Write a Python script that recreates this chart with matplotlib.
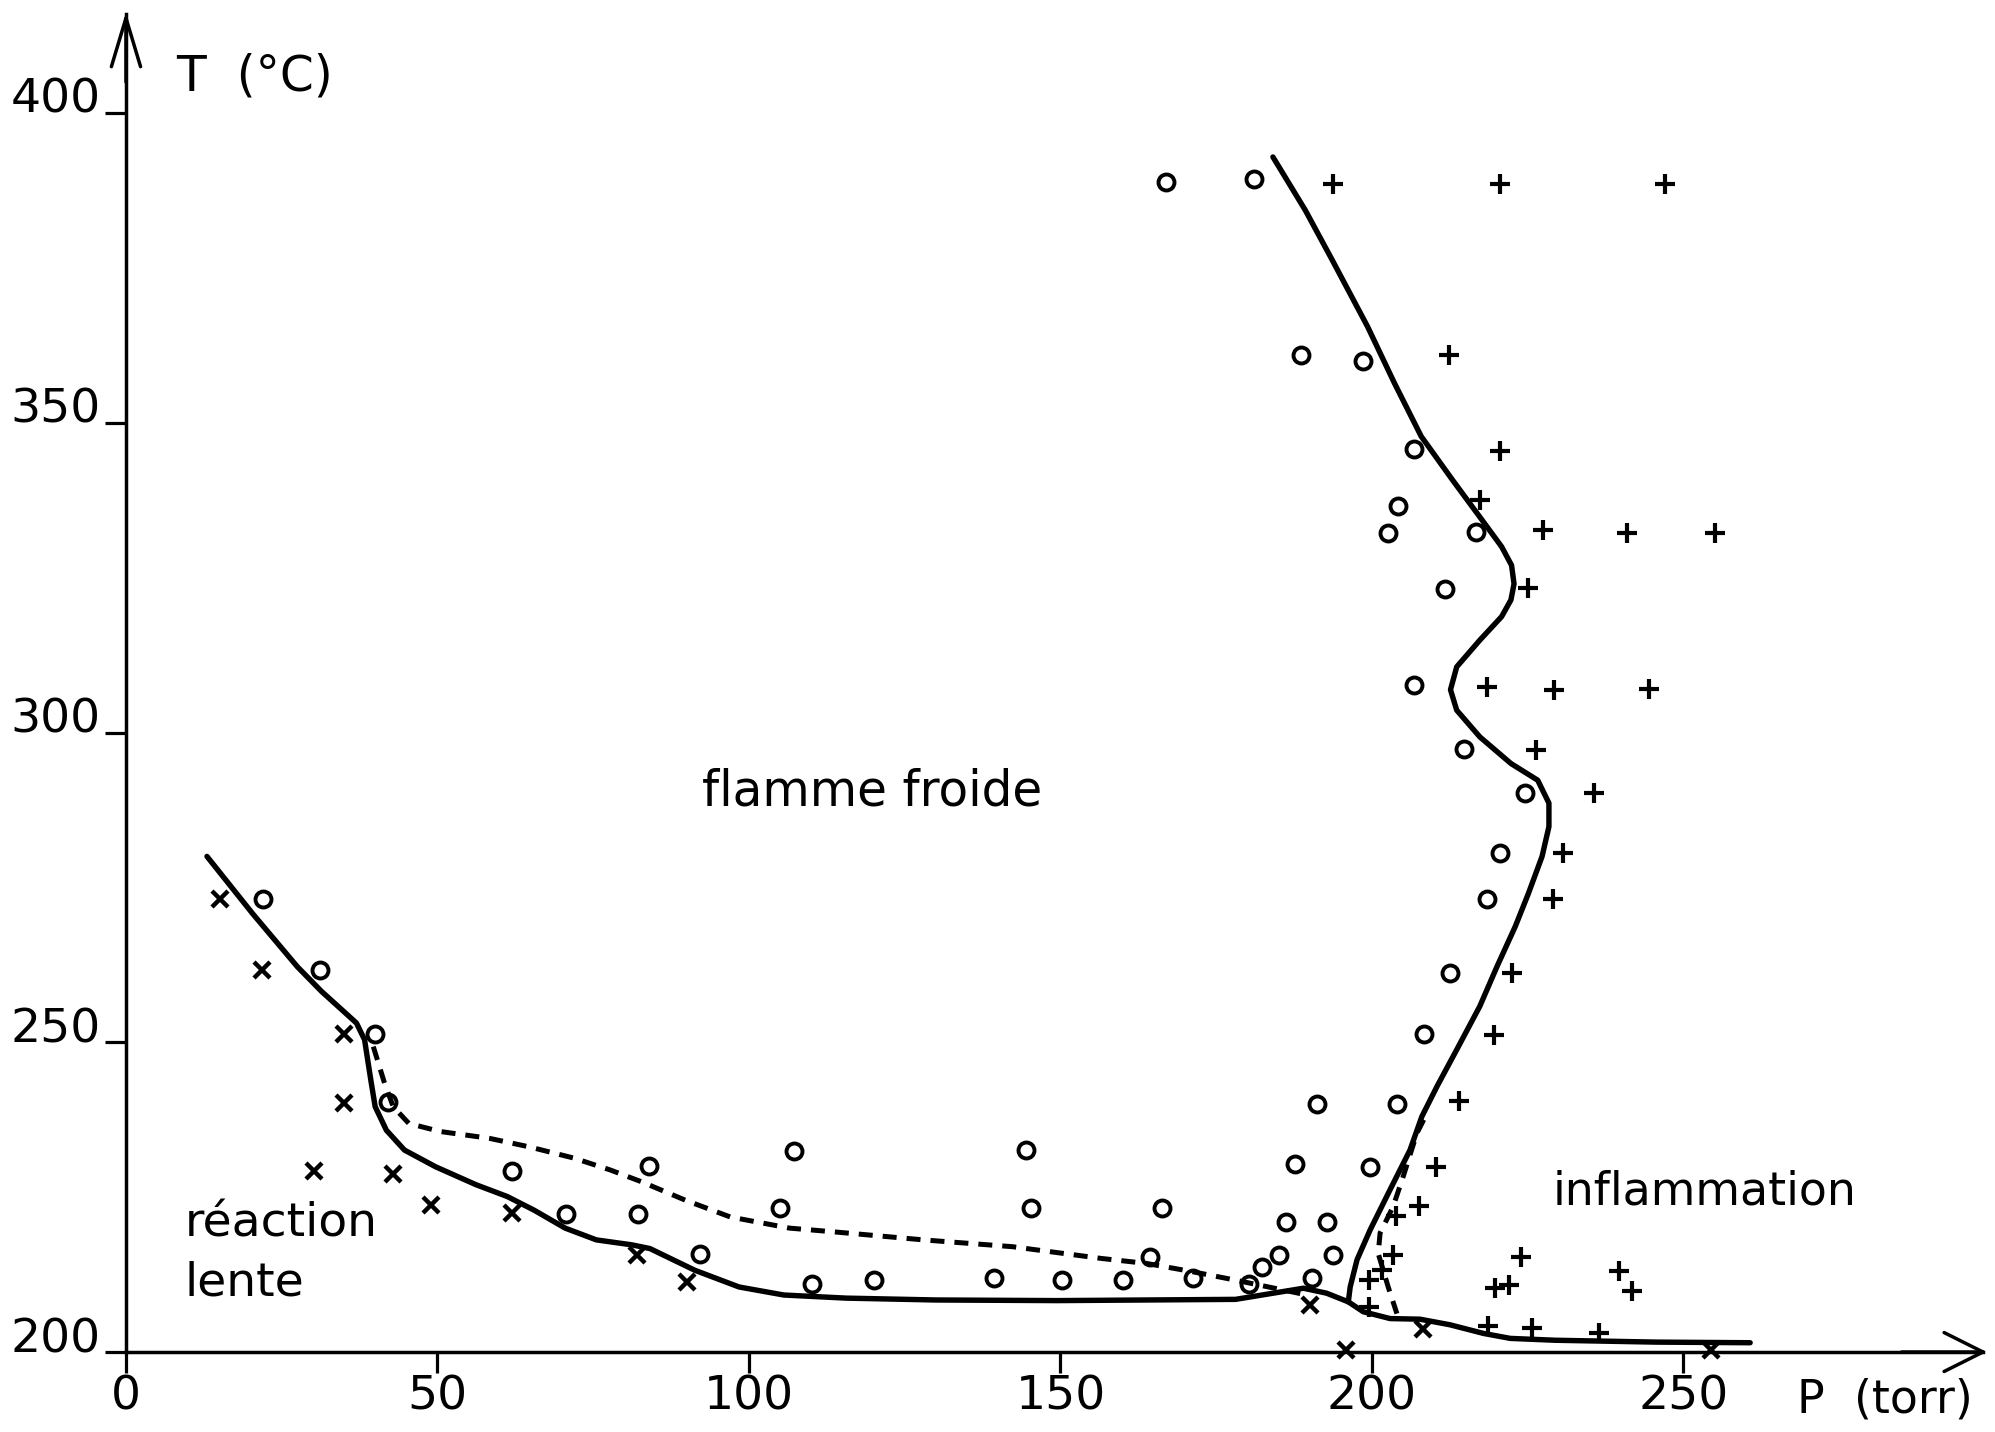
import matplotlib
matplotlib.use("Agg")
import matplotlib.pyplot as plt

plt.rcParams['font.family'] = ['DejaVu Sans']

# ---------------- data (P in torr, T in degC) ----------------
circ_P = [22.0, 31.1, 39.9, 42.0, 61.9, 70.7, 82.2, 84.0, 92.2, 107.2, 104.9, 110.1, 120.1, 139.4,
          144.4, 145.3, 150.2, 160.1, 166.3, 164.3, 171.3, 180.3, 182.4, 185.1, 186.2, 187.7,
          191.1, 190.3, 192.7, 193.7, 199.7, 204.0, 208.4, 212.5, 218.5, 220.6, 224.6, 214.7,
          206.7, 211.7, 202.6, 204.2, 206.7, 216.7, 188.6, 198.6, 166.9, 181.1]
circ_T = [273.2, 261.7, 251.3, 240.4, 229.2, 222.3, 222.3, 230.0, 215.9, 232.4, 223.2, 211.0, 211.6, 211.9,
          232.6, 223.2, 211.6, 211.6, 223.3, 215.4, 211.9, 210.9, 213.8, 215.7, 221.0, 230.3,
          240.1, 211.9, 221.0, 215.7, 229.9, 240.0, 251.4, 261.1, 273.2, 280.6, 290.2, 297.4,
          307.7, 323.2, 332.2, 336.6, 345.8, 332.4, 360.9, 360.0, 388.9, 389.3]

cross_P = [15.1, 21.8, 35.0, 35.0, 30.2, 42.9, 48.9, 62.0, 82.1, 90.0, 190.0, 195.8, 208.2, 254.4]
cross_T = [273.2, 261.7, 251.4, 240.2, 229.2, 228.8, 223.7, 222.4, 215.7, 211.3, 207.6, 200.4, 203.7, 200.3]

plus_P = [193.7, 220.6, 247.0, 212.4, 220.5, 217.4, 227.5, 241.0, 255.1, 225.0, 218.5, 229.2, 244.5,
          226.4, 235.7, 230.7, 229.1, 222.4, 219.6, 214.0, 210.2, 207.5, 203.8, 203.3, 201.6,
          199.6, 199.5, 219.8, 222.0, 223.9, 239.6, 241.7, 218.6, 225.7, 236.5]
plus_T = [388.5, 388.5, 388.5, 360.9, 345.5, 337.5, 332.7, 332.2, 332.2, 323.4, 307.4, 306.9, 307.1,
          297.2, 290.2, 280.5, 273.2, 261.1, 251.2, 240.5, 229.8, 223.5, 221.9, 215.7, 213.3,
          211.6, 207.2, 210.4, 210.8, 215.4, 213.0, 209.9, 204.2, 203.8, 203.1]

# lower solid boundary (slow reaction / cold flame)
low_P = [13.0, 20.3, 27.5, 31.4, 34.7, 37.0, 38.3, 39.3, 40.0, 41.8, 44.7, 49.7, 56.2, 61.2, 65.5,
         70.5, 75.5, 81.2, 84.1, 91.3, 98.4, 105.6, 115.6, 130.0, 149.5, 178.1, 189.0, 192.7, 196.2,
         198.6, 202.9, 207.7, 212.5, 217.9, 222.2, 229.4, 245.6, 260.7]
low_T = [280.0, 270.8, 262.2, 258.2, 255.2, 253.1, 250.4, 243.9, 239.6, 235.8, 232.6, 229.9, 227.0,
         225.1, 222.9, 220.0, 218.1, 217.3, 216.7, 213.2, 210.5, 209.2, 208.7, 208.4, 208.3, 208.5,
         210.3, 209.5, 208.1, 206.5, 205.4, 205.3, 204.4, 203.0, 202.2, 201.9, 201.6, 201.5]

# upper solid boundary (cold flame / ignition)
up_P = [184.1, 189.3, 193.6, 199.3, 203.6, 207.9, 212.9, 217.3, 220.8, 222.4, 222.8, 222.3, 220.8,
        217.3, 213.6, 212.6, 213.6, 217.3, 222.3, 226.6, 228.4, 228.4, 227.3, 225.1, 223.0, 220.1,
        217.3, 213.6, 210.5, 208.0, 206.1, 202.9, 199.7, 197.6, 196.5, 196.2]
up_T = [392.9, 384.3, 376.3, 365.5, 356.4, 347.8, 340.8, 334.8, 330.0, 327.0, 324.0, 321.4, 318.7,
        314.9, 310.6, 306.9, 303.6, 299.3, 295.0, 292.3, 288.6, 284.8, 280.0, 274.0, 268.7, 262.3,
        255.8, 248.8, 243.0, 238.0, 232.6, 226.2, 219.7, 214.9, 210.5, 208.1]

# dashed boundaries
dash1_P = [39.7, 41.5, 42.9, 45.4, 50.4, 58.3, 64.8, 71.9, 77.7, 82.7, 89.8, 97.0, 106.5, 113.6,
           128.0, 142.3, 156.6, 163.8, 171.0, 178.1, 185.3, 189.6]
dash1_T = [249.3, 243.4, 239.6, 236.9, 235.6, 234.5, 233.1, 231.3, 229.4, 227.5, 224.5, 221.8,
           220.0, 219.4, 218.1, 217.0, 215.1, 214.3, 213.0, 211.6, 210.1, 209.2]
dash2_P = [208.3, 207.2, 205.0, 203.4, 201.3, 201.0, 202.6, 204.0]
dash2_T = [237.5, 235.3, 228.3, 223.5, 219.2, 215.9, 210.5, 206.2]

x_ticks = [0, 50, 100, 150, 200, 250]
y_ticks = [200, 250, 300, 350, 400]
x_ticklabels = [str(v) for v in x_ticks]
y_ticklabels = [str(v) for v in y_ticks]

# ---------------- figure ----------------
fig = plt.figure(figsize=(19.95, 14.32), dpi=100)
ax = fig.add_axes([0, 0, 1, 1])
ax.set_xlim(-20.22, 300.0)
ax.set_ylim(187.09, 418.24)

for s in ['top', 'right']:
    ax.spines[s].set_visible(False)
ax.spines['left'].set_position(('data', 0))
ax.spines['bottom'].set_position(('data', 200))
ax.spines['left'].set_bounds(200, 416)
ax.spines['bottom'].set_bounds(0, 298)
for s in ['left', 'bottom']:
    ax.spines[s].set_linewidth(2.5)

ax.set_xticks(x_ticks)
ax.set_xticklabels(x_ticklabels)
ax.set_yticks(y_ticks)
ax.set_yticklabels(y_ticklabels, va='baseline')
ax.tick_params(axis='both', direction='out', length=15, width=2.3, labelsize=34)
ax.tick_params(axis='x', pad=1)
ax.tick_params(axis='y', pad=3)

# axis arrows (open heads)
ax.annotate('', xy=(0, 416.3), xytext=(0, 405),
            arrowprops=dict(arrowstyle='->,head_length=1.0,head_width=0.3', lw=2.5,
                            color='black', shrinkA=0, shrinkB=0, mutation_scale=35))
ax.annotate('', xy=(298.7, 200), xytext=(285, 200),
            arrowprops=dict(arrowstyle='->,head_length=0.8,head_width=0.4', lw=2.5,
                            color='black', shrinkA=0, shrinkB=0, mutation_scale=35))

# curves
line_kw = dict(color='black', lw=3.9, solid_capstyle='round', solid_joinstyle='round')
ax.plot(low_P, low_T, **line_kw)
ax.plot(up_P, up_T, **line_kw)
ax.plot(dash1_P, dash1_T, color='black', lw=3.6, dashes=(2.8, 2.0))
ax.plot(dash2_P, dash2_T, color='black', lw=3.6, dashes=(2.8, 2.0))

# markers
ax.plot(circ_P, circ_T, linestyle='none', marker='o', markersize=11.5, markerfacecolor='none',
        markeredgecolor='black', markeredgewidth=2.8)
ax.plot(cross_P, cross_T, linestyle='none', marker='x', markersize=11.5, markeredgecolor='black',
        markeredgewidth=3.2)
ax.plot(plus_P, plus_T, linestyle='none', marker='+', markersize=14.5, markeredgecolor='black',
        markeredgewidth=3.0)

# texts
ax.text(8.0, 405.9, 'T  (°C)', fontsize=35, ha='left', va='center')
ax.text(119.7, 290.5, 'flamme froide', fontsize=35, ha='center', va='center')
ax.text(9.4, 220.7, 'réaction', fontsize=34, ha='left', va='center')
ax.text(9.4, 211.2, 'lente', fontsize=34, ha='left', va='center')
ax.text(229.0, 225.8, 'inflammation', fontsize=33, ha='left', va='center')
ax.text(268.2, 192.2, 'P  (torr)', fontsize=33, ha='left', va='center')

fig.savefig('out.png', dpi=100, facecolor='white')
